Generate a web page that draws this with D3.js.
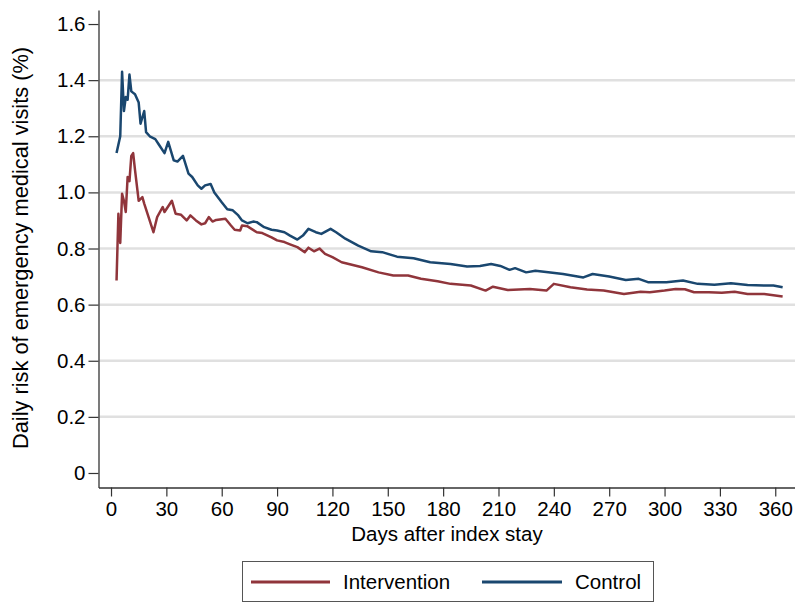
<!DOCTYPE html>
<html>
<head>
<meta charset="utf-8">
<script src="https://cdn.jsdelivr.net/npm/d3@7"></script>
<style>
  body { margin: 0; background: #fff; }
  text { font-family: "Liberation Sans", Arial, sans-serif; fill: #000; }
</style>
</head>
<body>
<script>
// values
const controlDays = [3, 5, 6, 7, 8, 9, 10, 11, 13, 15, 16, 18, 19, 21, 24, 26, 29, 31, 34, 36, 39, 42, 44, 47, 49, 51, 54, 56, 60, 63, 66, 69, 71, 74, 77, 79, 83, 87, 90, 94, 97, 101, 104, 107, 111, 114, 119, 122, 127, 134, 141, 147, 155, 164, 173, 184, 193, 200, 206, 211, 216, 219, 225, 230, 237, 245, 256, 261, 270, 279, 286, 291, 301, 310, 318, 327, 336, 345, 354, 359, 364];
const controlRisk = [1.14, 1.20, 1.43, 1.29, 1.34, 1.33, 1.42, 1.36, 1.35, 1.32, 1.245, 1.29, 1.215, 1.20, 1.19, 1.17, 1.14, 1.18, 1.114, 1.11, 1.13, 1.067, 1.055, 1.025, 1.013, 1.025, 1.03, 1.00, 0.965, 0.94, 0.936, 0.918, 0.90, 0.89, 0.896, 0.894, 0.876, 0.867, 0.864, 0.858, 0.846, 0.832, 0.846, 0.87, 0.858, 0.852, 0.87, 0.858, 0.835, 0.81, 0.79, 0.787, 0.771, 0.765, 0.751, 0.745, 0.736, 0.738, 0.745, 0.738, 0.724, 0.73, 0.715, 0.721, 0.715, 0.709, 0.697, 0.709, 0.70, 0.688, 0.692, 0.68, 0.68, 0.686, 0.674, 0.671, 0.676, 0.67, 0.668, 0.668, 0.662];

const interventionDays = [3, 4, 5, 6, 7, 8, 9, 10, 11, 12, 13, 15, 17, 18, 23, 25, 28, 29, 33, 35, 38, 41, 43, 46, 49, 51, 53, 55, 57, 62, 65, 67, 70, 71, 74, 79, 82, 87, 90, 94, 97, 101, 105, 107, 110, 113, 116, 120, 125, 136, 145, 153, 161, 168, 177, 184, 195, 203, 207, 215, 227, 236, 240, 249, 258, 267, 278, 287, 292, 300, 306, 311, 316, 324, 331, 338, 345, 354, 364];
const interventionRisk = [0.686, 0.924, 0.82, 0.995, 0.97, 0.93, 1.055, 1.04, 1.13, 1.14, 1.08, 0.97, 0.983, 0.96, 0.858, 0.912, 0.948, 0.93, 0.97, 0.924, 0.92, 0.90, 0.918, 0.90, 0.886, 0.89, 0.912, 0.896, 0.902, 0.906, 0.882, 0.867, 0.864, 0.882, 0.879, 0.858, 0.855, 0.84, 0.829, 0.823, 0.815, 0.805, 0.787, 0.803, 0.79, 0.80, 0.781, 0.769, 0.751, 0.733, 0.715, 0.704, 0.704, 0.692, 0.683, 0.674, 0.668, 0.65, 0.664, 0.652, 0.656, 0.65, 0.674, 0.662, 0.654, 0.65, 0.638, 0.646, 0.644, 0.65, 0.656, 0.655, 0.644, 0.644, 0.642, 0.646, 0.638, 0.638, 0.629];

const xTicks = [0, 30, 60, 90, 120, 150, 180, 210, 240, 270, 300, 330, 360];
const yTicks = [0, 0.2, 0.4, 0.6, 0.8, 1.0, 1.2, 1.4, 1.6];
const gridTicks = [0.2, 0.4, 0.6, 0.8, 1.0, 1.2, 1.4];

const series = [
    { name: "Intervention", color: "#90353B", days: interventionDays, risk: interventionRisk },
    { name: "Control", color: "#1A476F", days: controlDays, risk: controlRisk }
];

const width = 795;
const height = 606;
const plot = { left: 98.5, right: 795, top: 10, bottom: 487.5 };

const svg = d3.select("body")
    .append("svg")
    .attr("width", width)
    .attr("height", height);

const x = d3.scaleLinear()
    .domain([-6.78, 370.7])
    .range([plot.left, plot.right]);

const y = d3.scaleLinear()
    .domain([-0.0517, 1.65])
    .range([plot.bottom, plot.top]);

// gridlines
svg.append("g")
    .selectAll("line")
    .data(gridTicks)
    .enter()
    .append("line")
    .attr("x1", plot.left + 1)
    .attr("x2", plot.right)
    .attr("y1", d => y(d))
    .attr("y2", d => y(d))
    .attr("stroke", "#e0e0e0")
    .attr("stroke-width", 2.5);

// lines
const line = d3.line()
    .x(d => x(d[0]))
    .y(d => y(d[1]));

series.forEach(s => {
    svg.append("path")
        .datum(d3.zip(s.days, s.risk))
        .attr("fill", "none")
        .attr("stroke", s.color)
        .attr("stroke-width", 2.5)
        .attr("stroke-linejoin", "round")
        .attr("d", line);
});

// axes
const yAxis = svg.append("g")
    .attr("transform", `translate(${plot.left},0)`)
    .call(d3.axisLeft(y)
        .tickValues(yTicks)
        .tickSize(10)
        .tickSizeOuter(0)
        .tickPadding(3)
        .tickFormat(d => d === 0 ? "0" : d3.format(".1f")(d)));

const xAxis = svg.append("g")
    .attr("transform", `translate(0,${plot.bottom})`)
    .call(d3.axisBottom(x)
        .tickValues(xTicks)
        .tickSize(9)
        .tickSizeOuter(0)
        .tickPadding(5));

[yAxis, xAxis].forEach(a => {
    a.select(".domain").attr("stroke", "#333").attr("stroke-width", 1.3);
    a.selectAll(".tick line").attr("stroke", "#333").attr("stroke-width", 1.2);
    a.selectAll(".tick text")
        .style("font-family", "'Liberation Sans', Arial, sans-serif")
        .style("font-size", "20.5px")
        .attr("fill", "#000");
});

// axis titles
svg.append("text")
    .attr("x", 447)
    .attr("y", 541)
    .attr("text-anchor", "middle")
    .style("font-size", "20.5px")
    .text("Days after index stay");

svg.append("text")
    .attr("transform", "translate(28,248) rotate(-90)")
    .attr("text-anchor", "middle")
    .style("font-size", "21.8px")
    .text("Daily risk of emergency medical visits (%)");

// legend
const legend = svg.append("g");
legend.append("rect")
    .attr("x", 242.5)
    .attr("y", 561.5)
    .attr("width", 411)
    .attr("height", 40)
    .attr("fill", "#fff")
    .attr("stroke", "#555")
    .attr("stroke-width", 1);

const legendItems = [
    { x1: 251, x2: 330, tx: 343 },
    { x1: 482, x2: 562, tx: 575 }
];

series.forEach((s, i) => {
    const it = legendItems[i];
    legend.append("line")
        .attr("x1", it.x1)
        .attr("x2", it.x2)
        .attr("y1", 582)
        .attr("y2", 582)
        .attr("stroke", s.color)
        .attr("stroke-width", 3);
    legend.append("text")
        .attr("x", it.tx)
        .attr("y", 589)
        .style("font-size", "20.5px")
        .text(s.name);
});
</script>
</body>
</html>
